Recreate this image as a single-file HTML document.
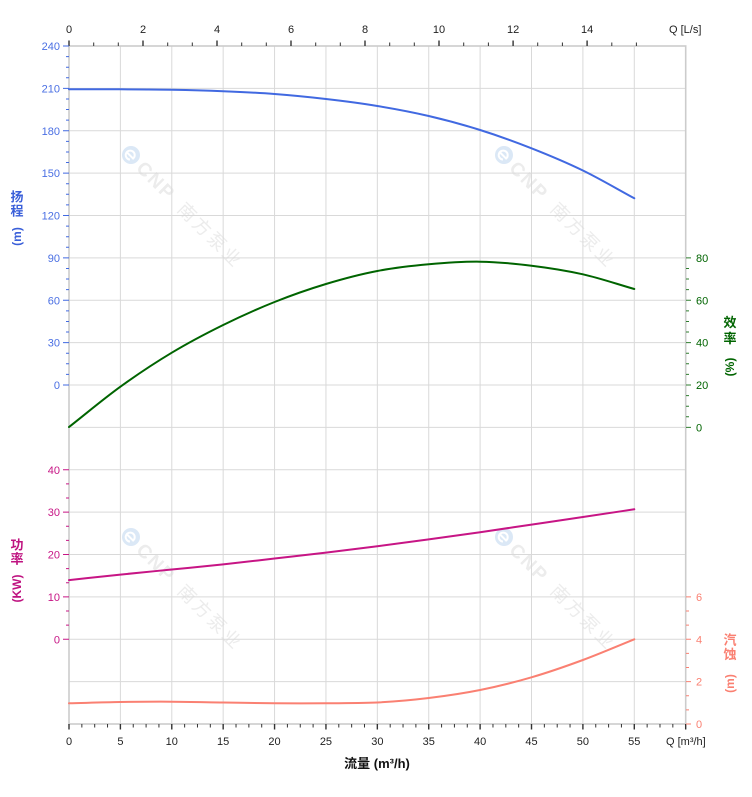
<!DOCTYPE html>
<html><head><meta charset="utf-8"><style>
html,body{margin:0;padding:0;background:#fff;}
svg{display:block;}
text{font-family:"Liberation Sans","Noto Sans CJK SC",sans-serif;}
</style></head><body>
<svg width="752" height="797" viewBox="0 0 752 797" xmlns="http://www.w3.org/2000/svg">
<rect x="0" y="0" width="752" height="797" fill="#fff"/>

<!-- watermarks -->
<g>
  <g transform="translate(131,155) rotate(45)">
    <circle cx="0" cy="0" r="9" fill="#dbe8f6"/><path d="M-4,1 H4 A4.5,4.5 0 1 0 2.5,4" fill="none" stroke="#fff" stroke-width="2"/>
    <text x="13" y="7" font-size="19" font-weight="bold" fill="#ececec" letter-spacing="2">CNP</text>
    <text x="71" y="7" font-size="18" fill="#ececec" letter-spacing="3">南方泵业</text>
  </g>
  <g transform="translate(504,155) rotate(45)">
    <circle cx="0" cy="0" r="9" fill="#dbe8f6"/><path d="M-4,1 H4 A4.5,4.5 0 1 0 2.5,4" fill="none" stroke="#fff" stroke-width="2"/>
    <text x="13" y="7" font-size="19" font-weight="bold" fill="#ececec" letter-spacing="2">CNP</text>
    <text x="71" y="7" font-size="18" fill="#ececec" letter-spacing="3">南方泵业</text>
  </g>
  <g transform="translate(131,537) rotate(45)">
    <circle cx="0" cy="0" r="9" fill="#dbe8f6"/><path d="M-4,1 H4 A4.5,4.5 0 1 0 2.5,4" fill="none" stroke="#fff" stroke-width="2"/>
    <text x="13" y="7" font-size="19" font-weight="bold" fill="#ececec" letter-spacing="2">CNP</text>
    <text x="71" y="7" font-size="18" fill="#ececec" letter-spacing="3">南方泵业</text>
  </g>
  <g transform="translate(504,537) rotate(45)">
    <circle cx="0" cy="0" r="9" fill="#dbe8f6"/><path d="M-4,1 H4 A4.5,4.5 0 1 0 2.5,4" fill="none" stroke="#fff" stroke-width="2"/>
    <text x="13" y="7" font-size="19" font-weight="bold" fill="#ececec" letter-spacing="2">CNP</text>
    <text x="71" y="7" font-size="18" fill="#ececec" letter-spacing="3">南方泵业</text>
  </g>
</g>

<!-- grid -->
<g stroke="#d9d9d9" stroke-width="1" fill="none">
  <path d="M120.39,46V724 M171.78,46V724 M223.17,46V724 M274.56,46V724 M325.95,46V724 M377.34,46V724 M428.73,46V724 M480.12,46V724 M531.51,46V724 M582.9,46V724 M634.29,46V724"/>
  <path d="M69,88.375H686 M69,130.75H686 M69,173.125H686 M69,215.5H686 M69,257.875H686 M69,300.25H686 M69,342.625H686 M69,385H686 M69,427.375H686 M69,469.75H686 M69,512.125H686 M69,554.5H686 M69,596.875H686 M69,639.25H686 M69,681.625H686"/>
</g>
<!-- border -->
<rect x="69" y="46" width="616.7" height="678" fill="none" stroke="#cccccc" stroke-width="1.6"/>

<!-- top ticks -->
<g stroke="#333" fill="none">
  <path stroke-width="1.4" d="M69,40.5V46 M143,40.5V46 M217,40.5V46 M291,40.5V46 M365,40.5V46 M439,40.5V46 M513.1,40.5V46 M587.1,40.5V46"/>
  <path stroke-width="1" d="M93.7,42.5V46 M118.3,42.5V46 M167.7,42.5V46 M192.3,42.5V46 M241.7,42.5V46 M266.3,42.5V46 M315.7,42.5V46 M340.3,42.5V46 M389.7,42.5V46 M414.3,42.5V46 M463.7,42.5V46 M488.4,42.5V46 M537.7,42.5V46 M562.4,42.5V46 M611.8,42.5V46 M636.4,42.5V46"/>
</g>
<!-- bottom ticks -->
<g stroke="#333" fill="none">
  <path stroke-width="1.4" d="M69,724V729.5 M120.39,724V729.5 M171.78,724V729.5 M223.17,724V729.5 M274.56,724V729.5 M325.95,724V729.5 M377.34,724V729.5 M428.73,724V729.5 M480.12,724V729.5 M531.51,724V729.5 M582.9,724V729.5 M634.29,724V729.5 M685.68,724V729.5"/>
  <path stroke-width="1" d="M81.85,724V727.5 M94.7,724V727.5 M107.54,724V727.5 M133.24,724V727.5 M146.09,724V727.5 M158.93,724V727.5 M184.63,724V727.5 M197.48,724V727.5 M210.32,724V727.5 M236.02,724V727.5 M248.87,724V727.5 M261.71,724V727.5 M287.41,724V727.5 M300.26,724V727.5 M313.1,724V727.5 M338.8,724V727.5 M351.65,724V727.5 M364.49,724V727.5 M390.19,724V727.5 M403.04,724V727.5 M415.88,724V727.5 M441.58,724V727.5 M454.43,724V727.5 M467.27,724V727.5 M492.97,724V727.5 M505.82,724V727.5 M518.66,724V727.5 M544.36,724V727.5 M557.21,724V727.5 M570.05,724V727.5 M595.75,724V727.5 M608.6,724V727.5 M621.44,724V727.5 M647.14,724V727.5 M659.99,724V727.5 M672.83,724V727.5"/>
</g>

<!-- head axis ticks -->
<g stroke="#4169E1" stroke-width="1" fill="none">
  <path d="M63,46H69 M63,88.375H69 M63,130.75H69 M63,173.125H69 M63,215.5H69 M63,257.875H69 M63,300.25H69 M63,342.625H69 M63,385H69"/>
  <path d="M66,56.59H69 M66,67.19H69 M66,77.78H69 M66,98.97H69 M66,109.56H69 M66,120.16H69 M66,141.34H69 M66,151.94H69 M66,162.53H69 M66,183.72H69 M66,194.31H69 M66,204.91H69 M66,226.09H69 M66,236.69H69 M66,247.28H69 M66,268.47H69 M66,279.06H69 M66,289.66H69 M66,310.84H69 M66,321.44H69 M66,332.03H69 M66,353.22H69 M66,363.81H69 M66,374.41H69"/>
</g>
<!-- power axis ticks -->
<g stroke="#C71585" stroke-width="1" fill="none">
  <path d="M63,469.75H69 M63,512.125H69 M63,554.5H69 M63,596.875H69 M63,639.25H69"/>
  <path d="M66,483.875H69 M66,498H69 M66,526.25H69 M66,540.375H69 M66,568.625H69 M66,582.75H69 M66,611H69 M66,625.125H69"/>
</g>
<!-- efficiency axis ticks -->
<g stroke="#2e7d2e" stroke-width="1" fill="none">
  <path d="M686,257.875H691 M686,300.25H691 M686,342.625H691 M686,385H691 M686,427.375H691"/>
  <path d="M686,268.47H689 M686,279.06H689 M686,289.66H689 M686,310.84H689 M686,321.44H689 M686,332.03H689 M686,353.22H689 M686,363.81H689 M686,374.41H689 M686,395.59H689 M686,406.19H689 M686,416.78H689"/>
</g>
<!-- npsh axis ticks -->
<g stroke="#FA8072" stroke-width="1" fill="none">
  <path d="M686,596.875H691 M686,639.25H691 M686,681.625H691 M686,724H691"/>
  <path d="M686,611H689 M686,625.125H689 M686,653.375H689 M686,667.5H689 M686,695.75H689 M686,709.875H689"/>
</g>

<!-- curves -->
<g fill="none" stroke-width="2" stroke-linejoin="round" stroke-linecap="round">
  <path stroke="#4169E1" d="M69,89.3 C86.13,89.3 103.26,89.23 120.39,89.3 C137.52,89.37 154.65,89.38 171.78,89.7 C188.91,90.02 206.04,90.48 223.17,91.2 C240.3,91.92 257.43,92.7 274.56,94 C291.69,95.3 308.82,97 325.95,99 C343.08,101 360.21,103.17 377.34,106 C394.47,108.83 411.6,112 428.73,116 C445.86,120 462.99,124.62 480.12,130 C497.25,135.38 514.38,141.55 531.51,148.3 C548.64,155.05 565.77,162.17 582.9,170.5 C600.03,178.83 617.16,189.03 634.29,198.3"/>
  <path stroke="#006400" d="M69,427 C86.13,413.57 103.26,399.08 120.39,386.7 C137.52,374.32 154.65,362.98 171.78,352.7 C188.91,342.42 206.04,333.45 223.17,325 C240.3,316.55 257.43,308.83 274.56,302 C291.69,295.17 308.82,289.17 325.95,284 C343.08,278.83 360.21,274.28 377.34,271 C394.47,267.72 411.6,265.85 428.73,264.3 C445.86,262.75 462.99,261.47 480.12,261.7 C497.25,261.93 514.38,263.6 531.51,265.7 C548.64,267.8 565.77,270.42 582.9,274.3 C600.03,278.18 617.16,284.1 634.29,289"/>
  <path stroke="#C71585" d="M69,580.1 C86.13,578.27 103.26,576.37 120.39,574.6 C137.52,572.83 154.65,571.2 171.78,569.5 C188.91,567.8 206.04,566.23 223.17,564.4 C240.3,562.57 257.43,560.47 274.56,558.5 C291.69,556.53 308.82,554.65 325.95,552.6 C343.08,550.55 360.21,548.4 377.34,546.2 C394.47,544 411.6,541.73 428.73,539.4 C445.86,537.07 462.99,534.67 480.12,532.2 C497.25,529.73 514.38,527.13 531.51,524.6 C548.64,522.07 565.77,519.55 582.9,517 C600.03,514.45 617.16,511.87 634.29,509.3"/>
  <path stroke="#FA8072" d="M69,703.3 C86.13,702.87 103.26,702.27 120.39,702 C137.52,701.73 154.65,701.62 171.78,701.7 C188.91,701.78 206.04,702.23 223.17,702.5 C240.3,702.77 257.43,703.17 274.56,703.3 C291.69,703.43 308.82,703.43 325.95,703.3 C343.08,703.17 360.21,703.1 377.34,702.5 C394.47,701.62 411.6,700.08 428.73,698 C445.86,695.92 462.99,693.45 480.12,690 C497.25,686.55 514.38,682.3 531.51,677.3 C548.64,672.3 565.77,666.33 582.9,660 C600.03,653.67 617.16,646.2 634.29,639.3"/>
</g>

<!-- top labels -->
<g font-size="11" fill="#222" text-anchor="middle">
  <text x="69" y="33">0</text><text x="143" y="33">2</text><text x="217" y="33">4</text><text x="291" y="33">6</text>
  <text x="365" y="33">8</text><text x="439" y="33">10</text><text x="513.1" y="33">12</text><text x="587.1" y="33">14</text>
</g>
<text x="669" y="33" font-size="11" fill="#222">Q [L/s]</text>

<!-- bottom labels -->
<g font-size="11" fill="#222" text-anchor="middle">
  <text x="69" y="745">0</text><text x="120.39" y="745">5</text><text x="171.78" y="745">10</text><text x="223.17" y="745">15</text>
  <text x="274.56" y="745">20</text><text x="325.95" y="745">25</text><text x="377.34" y="745">30</text><text x="428.73" y="745">35</text>
  <text x="480.12" y="745">40</text><text x="531.51" y="745">45</text><text x="582.9" y="745">50</text><text x="634.29" y="745">55</text>
</g>
<text x="666" y="745" font-size="11" fill="#222">Q [m³/h]</text>
<text x="377" y="768" font-size="13" font-weight="bold" fill="#111" text-anchor="middle">流量 (m³/h)</text>

<!-- head labels -->
<g font-size="11" fill="#4a6fe3" text-anchor="end">
  <text x="60" y="50">240</text><text x="60" y="92.4">210</text><text x="60" y="134.8">180</text><text x="60" y="177.1">150</text>
  <text x="60" y="219.5">120</text><text x="60" y="261.9">90</text><text x="60" y="304.3">60</text><text x="60" y="346.6">30</text><text x="60" y="389">0</text>
</g>
<!-- power labels -->
<g font-size="11" fill="#C71585" text-anchor="end">
  <text x="60" y="473.8">40</text><text x="60" y="516.1">30</text><text x="60" y="558.5">20</text><text x="60" y="600.9">10</text><text x="60" y="643.3">0</text>
</g>
<!-- efficiency labels -->
<g font-size="11" fill="#006400">
  <text x="696" y="261.9">80</text><text x="696" y="304.3">60</text><text x="696" y="346.6">40</text><text x="696" y="389">20</text><text x="696" y="431.4">0</text>
</g>
<!-- npsh labels -->
<g font-size="11" fill="#FA8072">
  <text x="696" y="600.9">6</text><text x="696" y="643.3">4</text><text x="696" y="685.6">2</text><text x="696" y="728">0</text>
</g>

<!-- axis titles -->
<g font-size="13" text-anchor="middle" fill="#3a5fd9" font-weight="bold">
  <text x="17" y="201.5">扬</text><text x="17" y="215.5">程</text>
  <text transform="translate(17,236.5) rotate(-90)" dominant-baseline="central" font-size="12">(m)</text>
</g>
<g font-size="13" text-anchor="middle" fill="#bf1380" font-weight="bold">
  <text x="17" y="549.5">功</text><text x="17" y="563.5">率</text>
  <text transform="translate(17,588.5) rotate(-90)" dominant-baseline="central" font-size="12">(KW)</text>
</g>
<g font-size="13" text-anchor="middle" fill="#006400" font-weight="bold">
  <text x="730" y="327">效</text><text x="730" y="343">率</text>
  <text transform="translate(730,367) rotate(-90)" dominant-baseline="central" font-size="12">(%)</text>
</g>
<g font-size="13" text-anchor="middle" fill="#FA8072" font-weight="bold">
  <text x="730" y="644.5">汽</text><text x="730" y="659">蚀</text>
  <text transform="translate(730,683.5) rotate(-90)" dominant-baseline="central" font-size="12">(m)</text>
</g>
</svg>
</body></html>
